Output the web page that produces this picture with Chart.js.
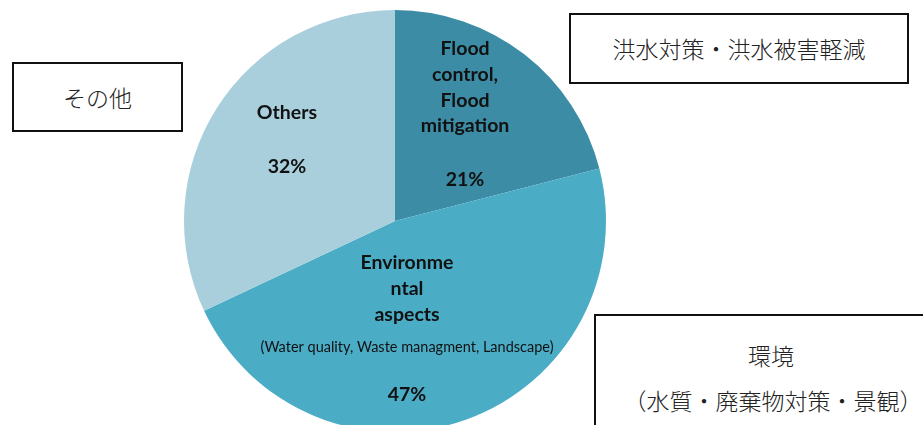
<!DOCTYPE html>
<html>
<head>
    <title>Pie</title>
    <script src="https://cdn.jsdelivr.net/npm/chart.js"></script>
    <style>
        body {
            margin: 0;
            overflow: hidden;
            background: #fff;
        }
        .wrap {
            position: relative;
            width: 923px;
            height: 440px;
        }
        #pie {
            position: absolute;
            left: 0;
            top: 0;
        }
        .note {
            position: absolute;
            box-sizing: border-box;
            border: 2px solid #111;
            background: #fff;
            font-family: "Noto Sans CJK JP", sans-serif;
            font-weight: 300;
            font-size: 23px;
            color: #222;
            text-align: center;
        }
    </style>
</head>
<body>
<div class="wrap">
    <canvas id="pie" width="923" height="440"></canvas>
    <div class="note" style="left:569px;top:13px;width:340px;height:71px;line-height:67px;">洪水対策・洪水被害軽減</div>
    <div class="note" style="left:12px;top:62px;width:171px;height:70px;line-height:66px;">その他</div>
    <div class="note" style="left:594px;top:314px;width:360px;height:140px;">
        <div style="position:absolute;left:0;width:350px;top:22px;">環境</div>
        <div style="position:absolute;left:0;width:354px;top:67px;">（水質・廃棄物対策・景観）</div>
    </div>
</div>

<script>
const categories = ['Flood control, Flood mitigation', 'Environmental aspects', 'Others'];
const shares = [21, 47, 32];
const colors = ['#3c8ca5', '#4bacc6', '#a9cfdc'];
const titleLines = [
    ['Flood', 'control,', 'Flood', 'mitigation'],
    ['Environme', 'ntal', 'aspects'],
    ['Others']
];
const subNotes = ['', '(Water quality, Waste managment, Landscape)', ''];

// where each label block sits, relative to pie centre, in radius units
const anchors = [
    {dx: 0.332, ys: [-0.815, -0.692, -0.569, -0.450], pct: -0.194},
    {dx: 0.057, ys: [0.199, 0.322, 0.445], note: 0.600, pct: 0.825},
    {dx: -0.512, ys: [-0.512], pct: -0.256}
];

const labelPlugin = {
    id: 'sliceLabels',
    afterDatasetsDraw(chart) {
        const ctx = chart.ctx;
        const arc = chart.getDatasetMeta(0).data[0];
        const cx = arc.x, cy = arc.y, r = arc.outerRadius;
        ctx.save();
        ctx.fillStyle = '#111';
        ctx.textAlign = 'center';
        ctx.textBaseline = 'middle';
        anchors.forEach((a, i) => {
            const x = cx + a.dx * r;
            ctx.font = 'bold 19.5px Lato';
            titleLines[i].forEach((t, j) => ctx.fillText(t, x, cy + a.ys[j] * r));
            ctx.fillText(shares[i] + '%', x, cy + a.pct * r);
            if (subNotes[i]) {
                ctx.font = '14.5px Lato';
                ctx.fillText(subNotes[i], x, cy + a.note * r);
            }
        });
        ctx.restore();
    }
};

new Chart(document.getElementById('pie'), {
    type: 'pie',
    data: {
        labels: categories,
        datasets: [{
            data: shares,
            backgroundColor: colors,
            borderWidth: 0
        }]
    },
    options: {
        responsive: false,
        animation: false,
        layout: {
            padding: {left: 184, right: 317, top: 10, bottom: 8}
        },
        plugins: {
            legend: {display: false},
            tooltip: {enabled: false}
        }
    },
    plugins: [labelPlugin]
});
</script>
</body>
</html>
